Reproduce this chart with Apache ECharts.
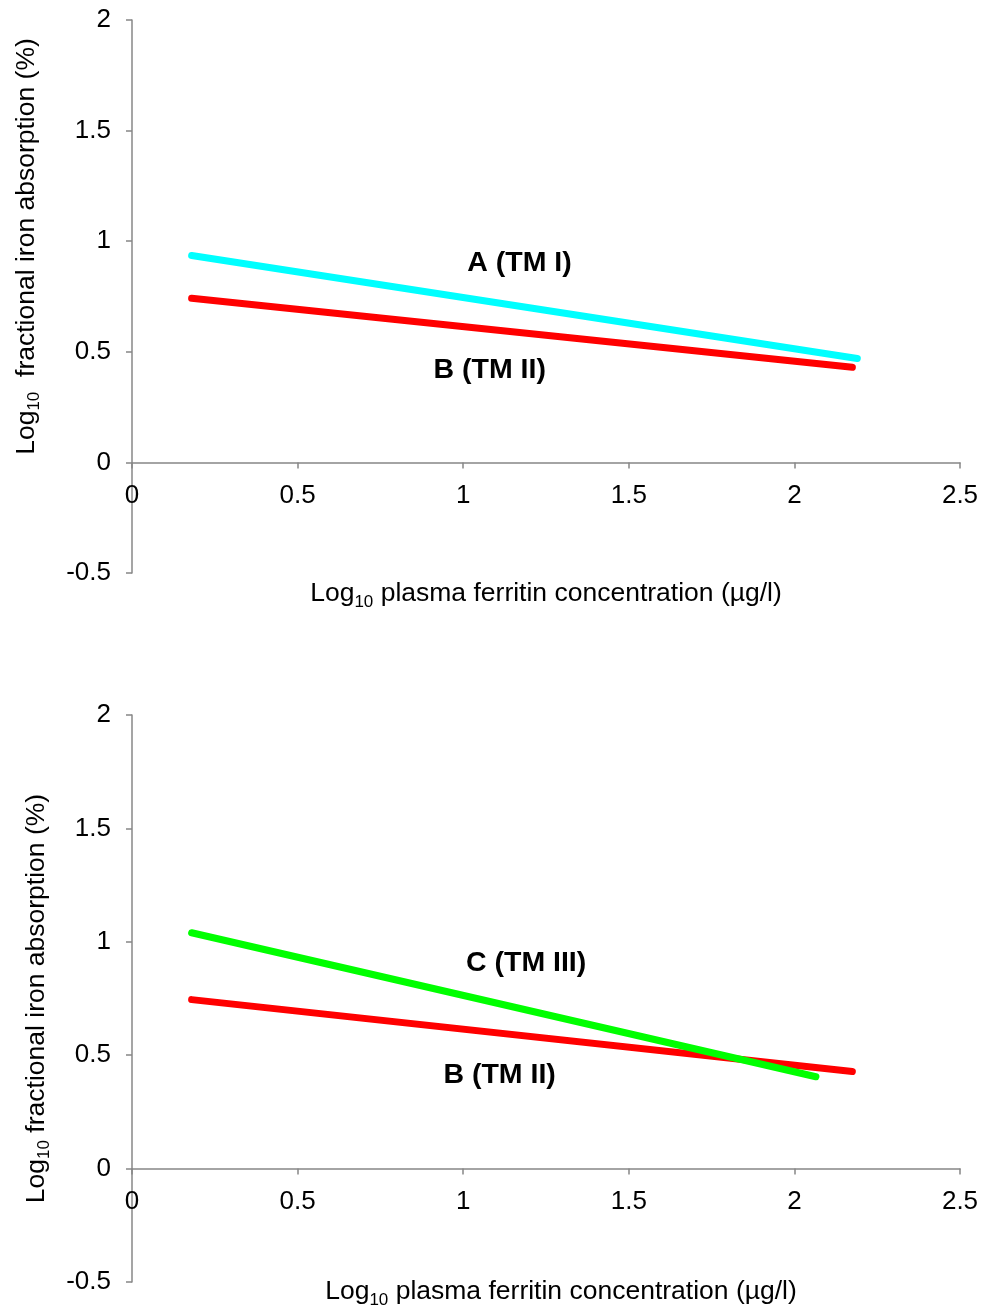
<!DOCTYPE html>
<html>
<head>
<meta charset="utf-8">
<script src="https://cdn.jsdelivr.net/npm/echarts@6/dist/echarts.min.js"></script>
<style>
  html, body { margin: 0; padding: 0; background: #fff; }
  #chart-root { width: 986px; height: 1307px; }
</style>
</head>
<body>
<div id="chart-root"></div>
<script>
// line end points: [log10 ferritin, log10 absorption]
const lineA = [[0.18, 0.935], [2.19, 0.47]]        // TM I, top panel
const lineB = [[0.18, 0.742], [2.175, 0.43]]       // TM II, top panel
const lineB2 = [[0.18, 0.745], [2.175, 0.428]]     // TM II, bottom panel
const lineC = [[0.18, 1.04], [2.065, 0.405]]       // TM III, bottom panel

// text labels placed in data units
const labelsTop = [['A (TM I)', 1.17, 0.90], ['B (TM II)', 1.08, 0.416]]
const labelsBottom = [['C (TM III)', 1.19, 0.905], ['B (TM II)', 1.11, 0.41]]

const xTicks = {min: 0, max: 2.5, interval: 0.5}
const yTicks = {min: -0.5, max: 2, interval: 0.5}

const FONT = 'Liberation Sans, Arial, sans-serif'
const AXIS_GREY = '#878787'

let grids = [
  {left: 132, top: 20, width: 828, height: 553},
  {left: 132, top: 715, width: 828, height: 567}
]

let chart = echarts.init(document.getElementById('chart-root'))

let rich = {
  a: {fontSize: 26.5, fontFamily: FONT, color: '#000', verticalAlign: 'top', lineHeight: 31},
  s: {fontSize: 17, fontFamily: FONT, color: '#000', verticalAlign: 'top', padding: [13, 0, 0, 0]}
}

function xAxisOf (gridIndex, nameGap, shift) {
  let g = grids[gridIndex]
  // x axis sits on y = 0, not at the grid bottom
  let zeroOffset = -g.height * (0 - yTicks.min) / (yTicks.max - yTicks.min)
  return {
    gridIndex,
    type: 'value',
    ...xTicks,
    position: 'bottom',
    offset: zeroOffset,
    name: '{a|Log}{s|10}{a| plasma ferritin concentration (µg/l)}',
    nameLocation: 'middle',
    nameGap,
    nameTextStyle: {padding: [0, 0, 0, shift], rich},
    axisLine: {onZero: false, lineStyle: {color: AXIS_GREY, width: 1.5}},
    axisTick: {show: true, inside: false, length: 6, lineStyle: {color: AXIS_GREY, width: 1.5}},
    axisLabel: {fontSize: 26, fontFamily: FONT, color: '#000', margin: 20},
    splitLine: {show: false}
  }
}

function yAxisOf (gridIndex, title, nameGap, shift) {
  return {
    gridIndex,
    type: 'value',
    ...yTicks,
    name: title,
    nameLocation: 'middle',
    nameRotate: 90,
    nameGap,
    nameTextStyle: {padding: [0, 0, 0, shift], rich},
    axisLine: {show: true, onZero: false, lineStyle: {color: AXIS_GREY, width: 1.5}},
    axisTick: {show: true, inside: false, length: 6, lineStyle: {color: AXIS_GREY, width: 1.5}},
    axisLabel: {fontSize: 26, fontFamily: FONT, color: '#000', margin: 21},
    splitLine: {show: false}
  }
}

function lineOf (data, color, idx) {
  return {
    type: 'line',
    xAxisIndex: idx,
    yAxisIndex: idx,
    data,
    showSymbol: false,
    silent: true,
    lineStyle: {color, width: 7, cap: 'round'},
    z: 3
  }
}

function labelsOf (list, idx) {
  return {
    type: 'scatter',
    xAxisIndex: idx,
    yAxisIndex: idx,
    symbolSize: 0,
    silent: true,
    itemStyle: {opacity: 1},
    data: list.map(([t, x, y]) => ({value: [x, y], name: t})),
    label: {
      show: true,
      position: 'inside',
      formatter: p => p.name,
      fontSize: 28.5,
      fontWeight: 'bold',
      fontFamily: FONT,
      color: '#000',
      opacity: 1
    },
    z: 5
  }
}

let option = {
  animation: false,
  backgroundColor: '#fff',
  grid: grids.map(g => ({...g, outerBoundsMode: 'none', containLabel: false})),
  xAxis: [xAxisOf(0, 118, 0), xAxisOf(1, 110, 30)],
  yAxis: [
    yAxisOf(0, '{a|Log}{s|10}{a|  fractional iron absorption (%)}', 88, 100),
    yAxisOf(1, '{a|Log}{s|10}{a| fractional iron absorption (%)}', 78, 0)
  ],
  series: [
    lineOf(lineB, '#ff0000', 0),
    lineOf(lineA, '#00ffff', 0),
    labelsOf(labelsTop, 0),
    lineOf(lineB2, '#ff0000', 1),
    lineOf(lineC, '#00ff00', 1),
    labelsOf(labelsBottom, 1)
  ]
}

chart.setOption(option)
</script>
</body>
</html>
